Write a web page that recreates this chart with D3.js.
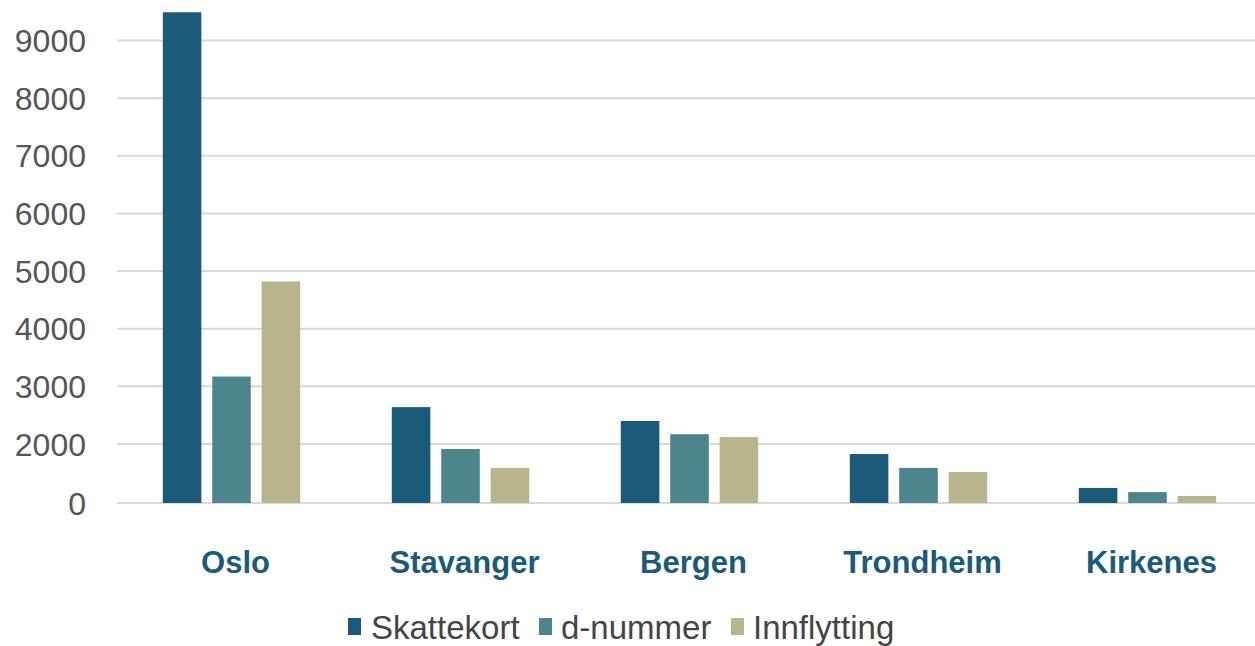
<!DOCTYPE html>
<html><head><meta charset="utf-8">
<script src="https://cdn.jsdelivr.net/npm/d3@7"></script>
<style>body{margin:0;background:#fff}svg{display:block}</style>
</head><body>
<svg id="c" width="1255" height="646"></svg>
<script>
const categories = ["Oslo","Stavanger","Bergen","Trondheim","Kirkenes"];
const seriesNames = ["Skattekort","d-nummer","Innflytting"];
const skattekort = [9490, 2640, 2400, 1660, 510];
const dnummer    = [3170, 1830, 2170, 1190, 370];
const innflytting= [4820, 1190, 2120, 1050, 240];
const tickValues = [0,2000,3000,4000,5000,6000,7000,8000,9000];
const colors = ["#1c5a7a","#4c858b","#b9b38e"];

const series = [skattekort, dnummer, innflytting];
const svg = d3.select("#c");
const x0 = d3.scaleBand().domain(categories).range([117,1262]).paddingInner(0.4).paddingOuter(0.2);
const x1 = d3.scaleBand().domain(seriesNames).range([0,x0.bandwidth()]).paddingInner(0.22);
// axis as drawn in the source: 0 -> 2000 spans one grid step
const y = d3.scaleLinear().domain([0,2000,9000]).range([503,444,40.5]);

const g = svg.append("g");
g.selectAll("line.grid").data(tickValues).join("line")
  .attr("x1",117).attr("x2",1255)
  .attr("y1",d=>y(d)).attr("y2",d=>y(d))
  .attr("stroke","#d9d9d9").attr("stroke-width",2);

const yAxis = d3.axisLeft(y).tickValues(tickValues).tickSize(0).tickPadding(0).tickFormat(d3.format("d"));
const ya = svg.append("g").attr("transform","translate(86,0)").call(yAxis);
ya.select(".domain").remove();
ya.selectAll("text").attr("font-family","Liberation Sans, Arial, sans-serif").attr("font-size",32).attr("fill","#555").attr("dy","0.35em");

categories.forEach((c,i)=>{
  svg.append("g").selectAll("rect").data(seriesNames).join("rect")
    .attr("x",s=>x0(c)+x1(s)).attr("width",x1.bandwidth())
    .attr("y",(s,j)=>y(series[j][i])).attr("height",(s,j)=>y(0)-y(series[j][i]))
    .attr("fill",(s,j)=>colors[j]);
});

const xAxis = d3.axisBottom(x0).tickSize(0).tickPadding(0);
const xa = svg.append("g").attr("transform","translate(4,551)").call(xAxis);
xa.select(".domain").remove();
xa.selectAll("text").attr("font-family","Liberation Sans, Arial, sans-serif").attr("font-size",31).attr("font-weight","bold").attr("fill","#1c5a7a").attr("dy","0.71em");

// legend
const legendX = [348, 539, 731];
const legendTextX = [371, 561, 753];
const lg = svg.append("g");
seriesNames.forEach((s,j)=>{
  lg.append("rect").attr("x",legendX[j]).attr("y",618).attr("width",13).attr("height",17).attr("fill",colors[j]);
  lg.append("text").attr("x",legendTextX[j]).attr("y",639).text(s)
    .attr("font-family","Liberation Sans, Arial, sans-serif").attr("font-size",33).attr("fill","#444");
});
</script>
</body></html>
